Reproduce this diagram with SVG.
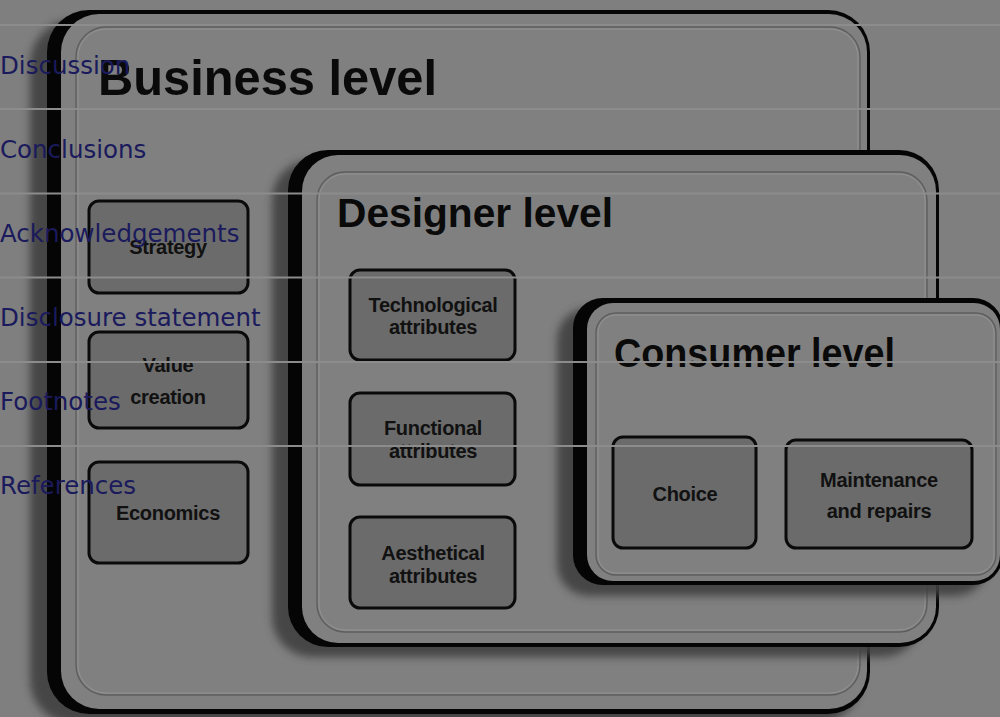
<svg xmlns="http://www.w3.org/2000/svg" width="1000" height="717" viewBox="0 0 1000 717">
  <style>
    .bg { fill: #7f7f7f; }
    .shadow { fill: #404040; opacity: 0.9; }
    .rim { fill: #050505; }
    .face { fill: #808080; }
    .bevel { fill: none; stroke: #5e5e5e; stroke-width: 1.4; }
    .bevel-hi { fill: none; stroke: #939393; stroke-width: 1; }
    .title { font-family: "Liberation Sans", Arial, sans-serif; font-weight: bold; fill: #0a0a0a; }
    .item { fill: #6b6b6b; stroke: #0a0a0a; stroke-width: 3; }
    .label { font-family: "Liberation Sans", Arial, sans-serif; font-weight: bold; font-size: 20px; fill: #111111; text-anchor: middle; letter-spacing: -0.3px; }
    .nav-line { stroke: #8c8c8c; stroke-width: 2; }
    .nav { font-family: "DejaVu Sans", sans-serif; font-size: 24.5px; fill: #1a1a5c; }
  </style>
  <defs>
    <filter id="soft" x="-10%" y="-10%" width="120%" height="120%">
      <feGaussianBlur stdDeviation="4"/>
    </filter>
  </defs>

  <rect class="bg" x="0" y="0" width="1000" height="717"/>

  <!-- Outer panel: business level -->
  <g id="business-level">
    <rect class="shadow" x="30" y="20" width="830" height="704" rx="44" filter="url(#soft)"/>
    <rect class="rim" x="47" y="10" width="823" height="704" rx="42"/>
    <rect class="face" x="61" y="14" width="806" height="695" rx="38"/>
    <rect class="bevel" x="76" y="27" width="784" height="668" rx="30"/>
    <rect class="bevel-hi" x="78" y="29" width="780" height="664" rx="28"/>
    <text class="title" x="98" y="95" font-size="50" textLength="339" lengthAdjust="spacingAndGlyphs">Business level</text>
  </g>

  <g id="strategy">
    <rect class="item" x="89" y="201" width="159" height="92" rx="10"/>
    <text class="label" x="168" y="254">Strategy</text>
  </g>
  <g id="value-creation">
    <rect class="item" x="89" y="332" width="159" height="96" rx="10"/>
    <text class="label" x="168" y="372">Value</text>
    <text class="label" x="168" y="404">creation</text>
  </g>
  <g id="economics">
    <rect class="item" x="89" y="462" width="159" height="101" rx="10"/>
    <text class="label" x="168" y="520">Economics</text>
  </g>

  <!-- Middle panel: designer level -->
  <g id="designer-level">
    <rect class="shadow" x="272" y="160" width="650" height="497" rx="40" filter="url(#soft)"/>
    <rect class="rim" x="288" y="150" width="651" height="497" rx="40"/>
    <rect class="face" x="302" y="155" width="634" height="488" rx="36"/>
    <rect class="bevel" x="317" y="172" width="610" height="460" rx="28"/>
    <rect class="bevel-hi" x="319" y="174" width="606" height="456" rx="26"/>
    <text class="title" x="337" y="227" font-size="40" textLength="276" lengthAdjust="spacingAndGlyphs">Designer level</text>
  </g>

  <g id="technological-attributes">
    <rect class="item" x="350" y="270" width="165" height="90" rx="10"/>
    <text class="label" x="433" y="312">Technological</text>
    <text class="label" x="433" y="334">attributes</text>
  </g>
  <g id="functional-attributes">
    <rect class="item" x="350" y="393" width="165" height="92" rx="10"/>
    <text class="label" x="433" y="435">Functional</text>
    <text class="label" x="433" y="458">attributes</text>
  </g>
  <g id="aesthetical-attributes">
    <rect class="item" x="350" y="517" width="165" height="91" rx="10"/>
    <text class="label" x="433" y="560">Aesthetical</text>
    <text class="label" x="433" y="583">attributes</text>
  </g>

  <!-- Inner panel: consumer level -->
  <g id="consumer-level">
    <rect class="shadow" x="557" y="308" width="430" height="288" rx="32" filter="url(#soft)"/>
    <rect class="rim" x="573" y="298" width="430" height="287" rx="30"/>
    <rect class="face" x="587" y="303" width="413" height="278" rx="26"/>
    <rect class="bevel" x="596" y="313" width="400" height="262" rx="20"/>
    <rect class="bevel-hi" x="598" y="315" width="396" height="258" rx="18"/>
    <text class="title" x="614" y="367" font-size="40" textLength="281" lengthAdjust="spacingAndGlyphs">Consumer level</text>
  </g>

  <g id="choice">
    <rect class="item" x="613" y="437" width="143" height="111" rx="10"/>
    <text class="label" x="685" y="501">Choice</text>
  </g>
  <g id="maintenance-and-repairs">
    <rect class="item" x="786" y="440" width="186" height="108" rx="10"/>
    <text class="label" x="879" y="487">Maintenance</text>
    <text class="label" x="879" y="518">and repairs</text>
  </g>

  <g id="connectors"/>

  <!-- Section navigation list drawn over the figure -->
  <g id="nav">
    <line class="nav-line" x1="0" y1="25" x2="1000" y2="25"/>
    <line class="nav-line" x1="0" y1="109" x2="1000" y2="109"/>
    <line class="nav-line" x1="0" y1="193.5" x2="1000" y2="193.5"/>
    <line class="nav-line" x1="0" y1="277.5" x2="1000" y2="277.5"/>
    <line class="nav-line" x1="0" y1="362" x2="1000" y2="362"/>
    <line class="nav-line" x1="0" y1="446" x2="1000" y2="446"/>
    <text class="nav" x="0" y="74">Discussion</text>
    <text class="nav" x="0" y="158">Conclusions</text>
    <text class="nav" x="0" y="242">Acknowledgements</text>
    <text class="nav" x="0" y="326">Disclosure statement</text>
    <text class="nav" x="0" y="410">Footnotes</text>
    <text class="nav" x="0" y="494">References</text>
  </g>
</svg>
